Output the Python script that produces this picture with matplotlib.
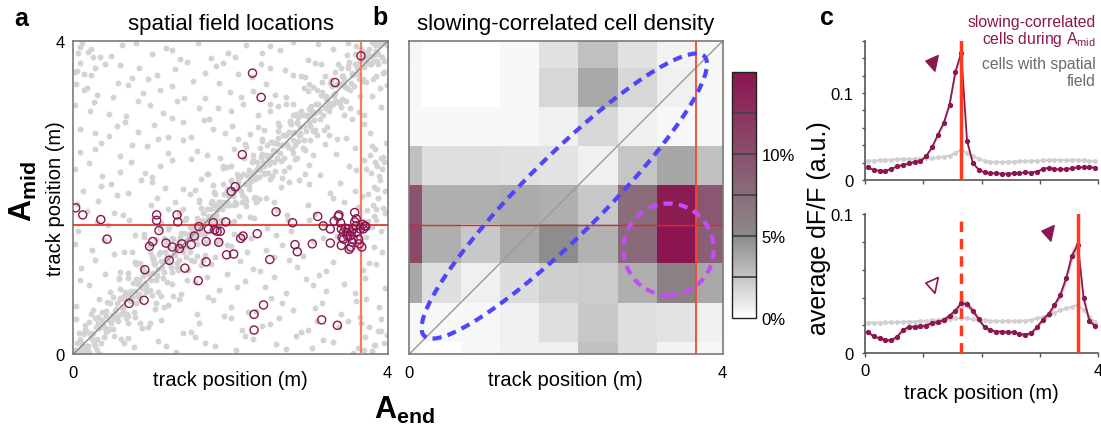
import matplotlib
matplotlib.use('Agg')
import matplotlib.pyplot as plt
import numpy as np
from matplotlib.colors import LinearSegmentedColormap
from matplotlib.patches import Ellipse
from matplotlib.path import Path
from matplotlib.transforms import Affine2D

plt.rcParams['font.family'] = ['Liberation Sans', 'DejaVu Sans']
plt.rcParams['mathtext.fontset'] = 'custom'
plt.rcParams['mathtext.rm'] = 'Liberation Sans'
plt.rcParams['mathtext.it'] = 'Liberation Sans:italic'
plt.rcParams['mathtext.bf'] = 'Liberation Sans:bold'

PURPLE = '#8c1750'

# ---------------- data: panel a (positions in cm) ----------------
diag1_x = [1,4,7,10,13,16,19,22,25,28,31,34,37,40,43,46,49,52,55,58,61,64,67,70,73,76,79,82,85,88,91,94,97,100,103,106,109,112,115,118,
           121,124,127,130,133,136,139,142,145,148,151,154,157,160,163,166,169,172,175,178,181,184,187,190,193,196,199,202,205,208,211,214,217,220,223,226,229,232,235,238,
           241,244,247,250,253,256,259,262,265,268,271,274,277,280,283,286,289,292,295,298,301,304,307,310,313,316,319,322,325,328,331,334,337,340,343,346,349,352,355,358,
           361,364,367,370,373,376,379,382,385,388,391,394,397]
diag1_y = [6,3,27,7,2,30,11,52,27,10,40,1,54,34,67,32,50,24,66,96,52,70,46,97,71,91,47,90,70,110,91,84,130,76,115,101,128,74,119,144,
           126,112,147,127,108,150,131,172,147,130,160,119,174,154,187,152,170,144,186,216,172,190,166,217,191,211,167,210,190,230,211,204,250,196,235,221,248,194,239,264,
           246,232,267,247,228,270,251,292,267,250,280,239,294,274,307,272,290,264,306,336,292,310,286,337,311,331,287,330,310,350,331,324,370,316,355,341,368,314,359,384,
           366,352,387,367,348,390,371,398,387,370,398,359,399]
diag2_x = [2,5,8,11,14,17,20,23,26,29,32,35,38,41,44,47,50,53,56,59,62,65,68,71,74,77,80,83,86,89,
           92,95,98,101,104,107,110,113,116,119,122,125,128,131,134,137,140,143,146,149,152,155,158,161,164,167,170,173,176,179,
           182,185,188,191,194,197,200,203,206,209,212,215,218,221,224,227,230,233,236,239,242,245,248,251,254,257,260,263,266,269,
           272,275,278,281,284,287,290,293,296,299,302,305,308,311,314,317,320,323,326,329,332,335,338,341,344,347,350,353,356,359,
           362,365,368,371,374,377,380,383,386,389,392,395,398]
diag2_y = [1,14,4,14,26,10,41,22,15,35,47,15,38,49,31,65,45,55,47,72,60,75,51,75,81,54,96,77,87,100,
           88,104,82,104,116,100,131,112,105,125,137,105,128,139,121,155,135,145,137,162,150,165,141,165,171,144,186,167,177,190,
           178,194,172,194,206,190,221,202,195,215,227,195,218,229,211,245,225,235,227,252,240,255,231,255,261,234,276,257,267,280,
           268,284,262,284,296,280,311,292,285,305,317,285,308,319,301,335,315,325,317,342,330,345,321,345,351,324,366,347,357,370,
           358,374,352,374,386,370,399,382,375,395,397,375,398]
diag3_x = [60,65,70,75,80,85,90,95,100,105,110,115,120,125,130,135,140,145,150,155,160,165,170,175,180,185,190,195,200,205,
           210,215,220,225,230,235,240,245,250,255,260,265,270,275,280,285,290,295,300,305,310,315,320,325,330,335,340,345,350,355,
           360,365,370,380,385,390,395]
diag3_y = [105,15,40,130,115,40,150,35,125,65,160,60,160,90,195,70,185,95,120,210,195,120,230,115,205,145,240,140,240,170,
           275,150,265,175,200,290,275,200,310,195,285,225,320,220,320,250,355,230,345,255,280,370,355,280,390,275,365,305,397,300,
           393,330,305,330,355,340,360]
diag4_x = [3,6,9,12,15,18,21,24,27,30,33,36,39,42,45,48,51,54,57,60,63,66,69,72,75,
           78,81,84,87,90,93,96,99,102,105,108,111,114,117,120,123,126,129,132,135,138,141,144,147,150,
           153,156,159,162,165,168,171,174,177,180,183,186,189,192,195,198,201,204,207,210,213,216,219,222,225,
           228,231,234,237,240,243,246,249,252,255,258,261,264,267,270,273,276,279,282,285,288,291,294,297,300,
           303,306,309,312,315,318,321,324,327,330,333,336,339,342,345,348,351,354,357,360,363,366,369,372,375,
           378,381,384,387,390,393,396,399]
diag4_y = [6,1,20,10,31,5,27,20,46,20,34,44,22,55,44,40,73,58,42,70,58,80,49,79,72,
           81,74,95,85,106,80,102,95,121,95,109,119,97,130,119,115,148,133,117,145,133,155,124,154,147,
           156,149,170,160,181,155,177,170,196,170,184,194,172,205,194,190,223,208,192,220,208,230,199,229,222,
           231,224,245,235,256,230,252,245,271,245,259,269,247,280,269,265,298,283,267,295,283,305,274,304,297,
           306,299,320,310,331,305,327,320,346,320,334,344,322,355,344,340,373,358,342,370,358,380,349,379,372,
           381,374,395,385,398,380,399,395]
bg_x = [8,30,61,77,108,131,155,180,207,229,258,283,304,330,356,382,
        15,42,55,88,112,140,160,192,215,240,262,290,310,338,365,392,
        4,33,64,80,104,127,158,178,201,233,251,279,316,341,360,389,
        20,47,58,92,119,137,170,186,219,244,270,296,321,345,371,396,
        10,28,69,85,101,146,163,195,212,238,255,285,312,331,368,385,
        24,39,52,96,115,129,168,183,221,226,266,292,305,349,357,393,
        6,44,71,78,122,143,151,198,204,247,273,277,319,336,375,380,
        17,31,63,99,106,134,175,189,211,236,259,298,308,344,362,398,
        12,48,56,86,117,148,162,179,224,231,264,287,326,339,367,387,
        2,37,73,91,110,125,171,196,209,249,268,282,314,351,373,384,
        27,35,60,94,121,139,157,187,218,228,253,295,301,334,359,394,
        9,45,66,82,103,150,166,193,202,242,276,289,323,347,370,377,
        21,26,67,97,114,132,173,184,216,235,261,286,300,329,364,391,
        14,50,57,89,126,141,152,199,213,245,257,293,317,342,352,399,
        5,40,75,84,107,145,167,181,227,239,269,280,307,333,361,381,
        19,34,62,100,118,136,159,197,206,250,263,299,311,348,366,388]
bg_y = [14,5,20,9,17,3,22,11,6,19,13,24,8,16,2,12,
        38,29,47,33,44,27,40,49,31,36,46,28,42,35,48,30,
        62,71,53,66,58,74,51,69,60,55,72,57,65,52,68,61,
        88,79,97,84,92,77,99,82,94,86,78,96,81,90,98,85,
        110,121,104,117,123,108,114,102,119,106,124,112,101,118,107,115,
        133,146,128,140,149,136,127,143,131,148,139,126,145,134,141,130,
        158,165,171,152,163,174,156,168,153,161,172,157,166,151,170,162,
        183,196,178,190,199,181,193,186,177,198,184,191,179,195,188,182,
        209,218,203,222,212,205,224,207,216,201,214,223,206,219,202,211,
        237,228,245,232,241,248,230,239,226,243,234,249,229,240,236,246,
        262,270,253,266,257,273,259,251,268,255,271,261,274,256,264,252,
        288,279,296,284,293,277,299,282,291,286,297,280,290,276,294,283,
        311,322,304,318,308,324,301,314,320,306,317,303,313,321,309,316,
        337,328,346,333,342,327,349,335,329,345,331,340,348,326,338,344,
        362,371,353,366,357,373,359,368,354,370,363,356,372,360,367,351,
        386,379,395,383,391,377,398,385,380,393,388,376,396,382,390,384]
bg2_x = [20,70,118,168,218,270,318,370,
         3,50,98,150,200,250,298,350,
         25,72,120,172,222,265,308,372,
         8,60,108,155,208,255,305,358,
         40,78,132,180,228,275,322,376,
         2,65,105,158,200,245,318,382,
         30,90,112,175,230,258,300,355,
         5,52,120,160,220,272,330,385,
         35,70,100,140,195,250,300,358,
         20,60,100,150,190,230,300,360,
         8,75,108,170,205,240,280,320,
         28,55,120,140,178,225,260,305,
         2,45,82,125,160,200,250,280,
         30,70,110,168,185,228,270,305,
         22,60,95,130,190,210,250,295,
         8,48,80,125,175,220,240,280]
bg2_y = [3,21,10,15,23,7,18,6,
         45,32,40,28,46,39,31,43,
         57,68,63,73,54,66,59,70,
         95,83,80,92,86,99,88,78,
         103,118,111,124,109,120,106,116,
         141,130,147,126,138,133,149,137,
         169,154,167,159,174,152,171,157,
         192,180,185,197,189,178,199,186,
         215,206,220,211,203,224,217,208,
         244,233,227,249,238,229,242,235,
         258,267,275,255,262,272,257,269,
         283,292,278,297,288,281,295,286,
         318,307,323,302,315,310,320,305,
         331,344,338,327,346,336,329,341,
         356,369,352,364,372,358,366,354,
         392,381,397,388,378,395,385,399]
edge_x = [372,378,385,391,396,381,388,394,375,383,390,397,379,386,393,370,377,384,392,398,374,382,389,395,380,
          3,9,14,22,6,18,28,11,2,25,
          362,371,380,388,395,366,376,384,392,399]
edge_y = [150,162,171,158,180,190,199,187,205,214,222,208,231,240,236,248,255,262,251,270,184,176,228,245,266,
          345,372,358,390,385,340,366,398,360,380,
          8,22,4,30,15,40,35,12,45,25]

# slowing-correlated cells (m)
slow_x = [3.66,2.28,3.33,2.39,2.15,2.01,2.06,0.03,0.12,0.35,0.43,1.06,1.06,1.09,1.32,1.33,1.01,0.97,1.18,1.26,
          1.38,1.35,1.22,1.42,0.91,1.59,0.71,0.90,1.60,1.54,1.50,1.69,1.69,1.72,1.78,1.80,1.83,1.87,1.85,1.94,
          1.95,2.04,2.13,2.16,2.34,2.50,2.58,2.30,2.42,2.30,2.79,2.82,2.85,3.04,3.11,3.18,3.27,3.27,3.16,3.36,
          3.32,3.37,3.38,3.40,3.41,3.44,3.42,3.46,3.48,3.50,3.52,3.54,3.41,3.51,3.53,3.56,3.58,3.60,3.60,3.61,
          3.63,3.64,3.67,3.69,3.71,3.72,3.65,3.68,3.58,3.56,3.44,3.49,3.55]
slow_y = [3.81,3.59,3.47,3.28,2.55,2.08,2.14,1.87,1.78,1.72,1.47,1.78,1.71,1.58,1.78,1.69,1.44,1.38,1.42,1.37,
          1.41,1.35,1.20,1.10,1.08,0.94,0.65,0.69,1.63,1.51,1.40,1.44,1.18,1.60,1.68,1.59,1.57,1.57,1.43,1.69,
          1.27,1.28,1.48,1.51,1.54,1.21,1.82,0.51,0.63,0.31,1.68,1.40,1.31,1.41,1.76,1.64,1.60,1.42,0.44,0.37,
          1.70,1.76,1.78,1.68,1.60,1.56,1.49,1.61,1.56,1.60,1.51,1.56,1.39,1.34,1.37,1.47,1.81,1.73,1.64,1.56,
          1.47,1.41,1.37,1.60,1.64,1.63,1.60,1.66,1.69,1.60,1.47,1.51,1.43]

end_pos = 3.66   # A_end reward location (m)
mid_pos = 1.65   # A_mid location (m)

# ---------------- data: panel b ----------------
bin_edges = [0.0, 0.16, 0.66, 1.16, 1.66, 2.16, 2.66, 3.16, 3.66, 4.0]
density_pct = [  # rows bottom -> top, columns left -> right
    [0.3, 0.1, 0.3, 0.65, 0.65, 2.7, 1.4, 0.55, 0.4],
    [0.3, 0.4, 0.4, 0.65, 1.4, 2.4, 1.4, 1.2, 0.65],
    [3.7, 1.4, 0.7, 1.5, 2.1, 2.2, 3.4, 5.9, 3.7],
    [10.5, 3.4, 2.4, 3.7, 4.9, 3.3, 7.8, 15.0, 8.7],
    [9.8, 3.4, 3.4, 3.6, 3.4, 2.4, 7.6, 14.4, 9.4],
    [2.7, 1.4, 1.4, 1.3, 1.2, 0.65, 2.5, 3.8, 2.7],
    [0.3, 0.3, 0.3, 0.4, 0.65, 1.7, 0.65, 0.4, 0.3],
    [0.3, 0.0, 0.0, 0.3, 1.7, 3.7, 1.7, 0.65, 0.3],
    [0.4, 0.0, 0.0, 0.3, 1.3, 2.7, 1.3, 0.55, 0.4],
]
cbar_ticks = [0.0, 0.05, 0.10]
cbar_labels = ['0%', '5%', '10%']

# ---------------- data: panel c ----------------
track_pos = np.linspace(0.05, 3.95, 40)
top_slow = [0.0146,0.0115,0.0107,0.0107,0.0126,0.0157,0.0172,0.0190,0.0210,0.0215,0.0276,0.0375,0.0520,0.0655,0.0866,0.1240,0.1460,
            0.0450,0.0195,0.0119,0.0088,0.0080,0.0077,0.0073,0.0073,0.0077,0.0080,0.0088,0.0085,0.0096,0.0126,0.0142,0.0126,0.0122,
            0.0126,0.0134,0.0146,0.0146,0.0146,0.0142]
top_sem = [0.0008,0.0007,0.0007,0.0007,0.0008,0.0009,0.0010,0.0011,0.0012,0.0012,0.0015,0.0019,0.0024,0.0028,0.0033,0.0040,0.0045,
           0.0020,0.0010,0.0007,0.0006,0.0006,0.0006,0.0006,0.0006,0.0006,0.0006,0.0006,0.0006,0.0007,0.0008,0.0008,0.0008,0.0008,
           0.0008,0.0008,0.0008,0.0008,0.0008,0.0008]
top_all = [0.0222,0.0222,0.0225,0.0230,0.0233,0.0237,0.0240,0.0243,0.0243,0.0245,0.0248,0.0250,0.0260,0.0268,0.0280,0.0310,0.0350,
           0.0310,0.0270,0.0245,0.0220,0.0210,0.0205,0.0205,0.0210,0.0210,0.0215,0.0215,0.0220,0.0220,0.0225,0.0228,0.0228,0.0230,
           0.0228,0.0228,0.0228,0.0225,0.0220,0.0215]
bot_slow = [0.0151,0.0122,0.0108,0.0096,0.0093,0.0120,0.0167,0.0189,0.0191,0.0194,0.0199,0.0220,0.0222,0.0239,0.0270,0.0306,0.0359,
            0.0352,0.0306,0.0246,0.0187,0.0167,0.0156,0.0156,0.0153,0.0151,0.0139,0.0134,0.0146,0.0187,0.0242,0.0282,0.0347,0.0419,
            0.0538,0.0701,0.0780,0.0395,0.0234,0.0194]
bot_sem = [0.0012,0.0011,0.0010,0.0010,0.0010,0.0012,0.0015,0.0016,0.0016,0.0016,0.0016,0.0017,0.0017,0.0018,0.0020,0.0022,0.0025,
           0.0025,0.0022,0.0018,0.0015,0.0013,0.0012,0.0012,0.0012,0.0012,0.0012,0.0012,0.0012,0.0014,0.0017,0.0019,0.0023,0.0028,
           0.0035,0.0042,0.0045,0.0025,0.0015,0.0012]
bot_all = [0.0220,0.0220,0.0220,0.0222,0.0222,0.0225,0.0225,0.0228,0.0228,0.0230,0.0233,0.0236,0.0240,0.0243,0.0245,0.0252,0.0256,
           0.0250,0.0245,0.0240,0.0236,0.0233,0.0232,0.0232,0.0232,0.0232,0.0233,0.0235,0.0240,0.0250,0.0260,0.0275,0.0290,0.0310,
           0.0322,0.0335,0.0347,0.0310,0.0260,0.0225]

# ================= figure =================
fig = plt.figure(figsize=(11.01, 4.27), dpi=100)
W, H = 1101, 427

def frac_box(l, t, r, b):
    return [l / W, 1 - b / H, (r - l) / W, (b - t) / H]

gx = np.concatenate([diag1_x, diag2_x, diag3_x, diag4_x, bg_x, bg2_x, edge_x]) / 100.0
gy = np.concatenate([diag1_y, diag2_y, diag3_y, diag4_y, bg_y, bg2_y, edge_y]) / 100.0

# ---- panel a ----
axa = fig.add_axes(frac_box(73.3, 42, 387.7, 355.3))
axa.scatter(gx, gy, s=18, c='#d3d3d3', linewidths=0, zorder=1)
axa.plot([0, 4], [0, 4], color='#8a8a8a', lw=1.0, zorder=2)
axa.axvline(end_pos, color='#f37b68', lw=1.6, zorder=3)
axa.axhline(mid_pos, color='#e8281c', lw=1.2, zorder=3)
axa.scatter(slow_x, slow_y, s=34, facecolors='none', edgecolors=PURPLE, linewidths=1.0, zorder=4)
axa.set_xlim(0, 4)
axa.set_ylim(0, 4)
axa.set_xticks([0, 4])
axa.set_yticks([0, 4])
axa.set_xticklabels(['0', '4'])
axa.set_yticklabels(['0', '4'])
axa.tick_params(axis='x', length=0, labelsize=12, pad=8)
axa.tick_params(axis='y', length=0, labelsize=12, pad=6)
for s in axa.spines.values():
    s.set_color('#7a7a7a')
    s.set_linewidth(1.2)
axa.set_title('spatial field locations', fontsize=16, pad=9)
axa.set_xlabel('track position (m)', fontsize=14.5)
axa.xaxis.set_label_coords(0.5, -0.05)
axa.set_ylabel('track position (m)', fontsize=14.5)
axa.yaxis.set_label_coords(-0.027, 0.5)

# ---- panel b ----
cmap = LinearSegmentedColormap.from_list('slow', [(0.0, '#ffffff'), (1/3, '#8a8a8a'), (1.0, '#8b1550')])
axb = fig.add_axes(frac_box(409, 42, 722.7, 355.3))
mesh = axb.pcolormesh(bin_edges, bin_edges, np.array(density_pct) / 100.0, cmap=cmap, vmin=0, vmax=0.15,
                      shading='flat', zorder=1)
axb.plot([0, 4], [0, 4], color='#9a9a9a', lw=1.0, zorder=2)
axb.axvline(end_pos, color='#f5472c', lw=1.3, zorder=3)
axb.axhline(mid_pos, color='#e02a1e', lw=1.0, zorder=3)
axb.add_patch(Ellipse((1.98, 2.02), width=5.05, height=1.0, angle=45, fill=False,
                      edgecolor='#4f46fb', lw=3.0, linestyle=(0, (2.2, 1.5)), zorder=4))
axb.add_patch(Ellipse((3.31, 1.34), width=1.15, height=1.17, angle=0, fill=False,
                      edgecolor='#c24df5', lw=3.0, linestyle=(0, (2.2, 1.5)), zorder=4))
axb.set_xlim(0, 4)
axb.set_ylim(0, 4)
axb.set_xticks([0, 4])
axb.set_xticklabels(['0', '4'])
axb.set_yticks([])
axb.tick_params(axis='x', length=0, labelsize=12, pad=8)
for s in axb.spines.values():
    s.set_color('#7a7a7a')
    s.set_linewidth(1.2)
axb.set_title('slowing-correlated cell density', fontsize=16, pad=9)
axb.set_xlabel('track position (m)', fontsize=14.5)
axb.xaxis.set_label_coords(0.5, -0.05)

cax = fig.add_axes(frac_box(732.3, 72.7, 755.7, 319.3))
cb = fig.colorbar(mesh, cax=cax, ticks=cbar_ticks)
cb.set_ticklabels(cbar_labels)
cax.tick_params(length=0, labelsize=12, pad=4)
cb.outline.set_linewidth(1.0)
cb.outline.set_edgecolor('#222222')
for v in [0.025, 0.05, 0.075, 0.10, 0.125]:
    cax.axhline(v, color='#444444', lw=1.3)

# ---- panel c ----
tri = np.array([[-0.62, 0.0], [0.38, 0.73], [0.38, -0.73], [-0.62, 0.0]])
tri = Affine2D().rotate_deg(-12).transform(tri)
tri_marker = Path(tri, [Path.MOVETO, Path.LINETO, Path.LINETO, Path.CLOSEPOLY])

def style_c(ax, ymax, show_xlabels):
    ax.set_xlim(0, 4)
    ax.set_ylim(0, ymax)
    ax.set_xticks([0, 1, 2, 3, 4])
    ax.set_xticklabels(['0', '', '', '', '4'] if show_xlabels else [''] * 5)
    yt = np.round(np.arange(0, ymax + 1e-9, 0.02), 2)
    ax.set_yticks(yt)
    ax.set_yticklabels(['0' if v == 0 else ('0.1' if abs(v - 0.1) < 1e-9 else '') for v in yt])
    ax.tick_params(axis='y', length=2.5, width=1, color='#555555', labelsize=12, pad=6)
    ax.tick_params(axis='x', length=3, width=1, color='#555555', labelsize=12, pad=4)
    for k in ['top', 'right']:
        ax.spines[k].set_visible(False)
    for k in ['left', 'bottom']:
        ax.spines[k].set_color('#555555')
        ax.spines[k].set_linewidth(1.2)

def draw_curves(ax, slow, sem, allc):
    slow = np.array(slow)
    sem = np.array(sem)
    ax.plot(track_pos, allc, color='#d0d0d0', lw=1.5, marker='o', ms=2.5, zorder=2)
    ax.fill_between(track_pos, slow - sem, slow + sem, color=PURPLE, alpha=0.25, lw=0, zorder=3)
    ax.plot(track_pos, slow, color=PURPLE, lw=1.3, marker='o', ms=2.8, zorder=4)

axc1 = fig.add_axes(frac_box(865, 41.7, 1098.2, 181))
draw_curves(axc1, top_slow, top_sem, top_all)
axc1.axvline(mid_pos, color='#ff3a1f', lw=2.5, zorder=5)
axc1.plot([1.15], [0.1356], marker=tri_marker, ms=12.5, color=PURPLE, linestyle='none', zorder=6)
style_c(axc1, 0.16, False)

axc2 = fig.add_axes(frac_box(865, 215, 1098.2, 354.3))
draw_curves(axc2, bot_slow, bot_sem, bot_all)
axc2.axvline(mid_pos, color='#ff3a1f', lw=2.5, linestyle=(0, (3, 2)), zorder=5)
axc2.axvline(end_pos, color='#ff3a1f', lw=2.5, zorder=5)
axc2.plot([3.14], [0.0869], marker=tri_marker, ms=12.5, color=PURPLE, linestyle='none', zorder=6)
axc2.plot([1.155], [0.0497], marker=tri_marker, ms=12.5, markerfacecolor='white', markeredgecolor=PURPLE,
          markeredgewidth=1.2, linestyle='none', zorder=6)
style_c(axc2, 0.10, True)
axc2.set_xlabel('track position (m)', fontsize=14.5)
axc2.xaxis.set_label_coords(0.5, -0.21)

fig.text(819 / W, 1 - 228 / H, 'average dF/F (a.u.)', rotation=90, ha='center', va='center', fontsize=18)

# legend text in c
fig.text(1096 / W, 1 - 27.3 / H, 'slowing-correlated', color=PURPLE, ha='right', va='baseline', fontsize=11.3)
fig.text(1096 / W, 1 - 44 / H, r'cells during A$_{\mathrm{mid}}$', color=PURPLE, ha='right', va='baseline', fontsize=11.3)
fig.text(1096 / W, 1 - 69 / H, 'cells with spatial', color='#6b6b6b', ha='right', va='baseline', fontsize=11.3)
fig.text(1096 / W, 1 - 86.5 / H, 'field', color='#6b6b6b', ha='right', va='baseline', fontsize=11.3)

# panel letters and big axis names
fig.text(14 / W, 1 - 26 / H, 'a', fontsize=18, fontweight='bold', va='baseline')
fig.text(372 / W, 1 - 25 / H, 'b', fontsize=18, fontweight='bold', va='baseline')
fig.text(820 / W, 1 - 25 / H, 'c', fontsize=18, fontweight='bold', va='baseline')
fig.text(23 / W, 1 - 192 / H, r'$\mathbf{A}_{\mathbf{mid}}$', rotation=90, ha='center', va='center', fontsize=22)
fig.text(404 / W, 1 - 410 / H, r'$\mathbf{A}_{\mathbf{end}}$', ha='center', va='center', fontsize=22)

fig.savefig('out.png', dpi=100)
